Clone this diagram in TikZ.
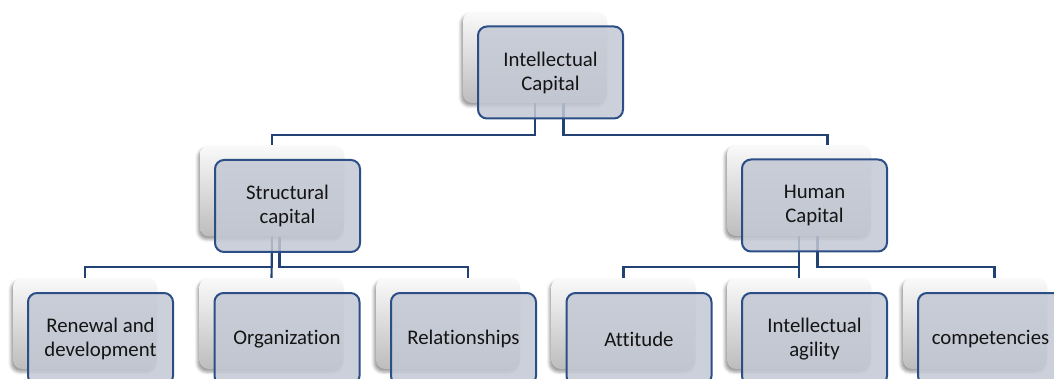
\documentclass[tikz,border=0pt]{standalone}
\usepackage{fontspec}
\setmainfont{Carlito}[Ligatures=NoCommon]
\usetikzlibrary{shadows.blur}

\definecolor{boxfill}{RGB}{195,200,212}
\definecolor{boxline}{RGB}{44,78,135}
\definecolor{linkline}{RGB}{33,66,115}

\tikzset{
  unitbox/.style={rounded corners=9pt, inner sep=0pt, align=center},
  mainbox/.style={unitbox, minimum width=145pt, minimum height=92pt,
    draw=boxline, line width=2pt, fill=boxfill, fill opacity=0.85,
    text opacity=1, text=black!92,
    font=\fontsize{20.8}{24}\selectfont},
  backbox/.style={unitbox, minimum width=144pt, minimum height=91pt,
    top color=black!2, bottom color=black!26,
    blur shadow={shadow xshift=-2pt, shadow yshift=-3pt,
      shadow blur radius=3pt, shadow opacity=40}},
  link/.style={draw=linkline, line width=2.1pt},
}

\begin{document}
\begin{tikzpicture}[x=1pt, y=-1pt]
\useasboundingbox (0,0) rectangle (1054,379);
\clip (0,0) rectangle (1054,379);

% raised cards behind each box
\node[backbox] (icb)   at (535,57.5)   {};
\node[backbox] (scb)   at (272,191)    {};
\node[backbox] (hcb)   at (799,190.5)  {};
\node[backbox] (rdb)   at (85,323.5)   {};
\node[backbox] (orgb)  at (271.5,323.5){};
\node[backbox] (relb)  at (448,323.5)  {};
\node[backbox] (attb)  at (623.5,323.5){};
\node[backbox] (iab)   at (799,323.5)  {};
\node[backbox] (compb) at (975,323.5)  {};

% top level links
\draw[link] (icb.south) -- ++(0,32) -| (scb.north);
\draw[link] ([xshift=28.5pt]icb.south) -- ++(0,32) -| ([xshift=28.5pt]hcb.north);

% structural capital links
\draw[link] (scb.south) -- ++(0,30.5) -| (rdb.north);
\draw[link] (scb.south) -- (orgb.north);
\draw[link] ([xshift=7.5pt]scb.south) -- ++(0,30.5) -| ([xshift=20pt]relb.north);

% human capital links
\draw[link] (hcb.south) -- ++(0,30.5) -| (attb.north);
\draw[link] (hcb.south) -- (iab.north);
\draw[link] ([xshift=18.5pt]hcb.south) -- ++(0,30.5) -| ([xshift=19.5pt]compb.north);

% boxes
\node[mainbox] (ic)   at (550.5,72.5) {Intellectual\\Capital};
\node[mainbox] (sc)   at (287.5,206)  {Structural\\capital};
\node[mainbox] (hc)   at (814.5,205.5){Human\\Capital};
\node[mainbox] (rd)   at (100.5,339)  {Renewal and\\development};
\node[mainbox] (org)  at (287,339)    {Organization};
\node[mainbox] (rel)  at (463.5,339)  {Relationships};
\node[mainbox] (att)  at (639,339)    {Attitude};
\node[mainbox] (ia)   at (814.5,339)  {Intellectual\\agility};
\node[mainbox] (comp) at (990.5,339)  {competencies};
\end{tikzpicture}
\end{document}
